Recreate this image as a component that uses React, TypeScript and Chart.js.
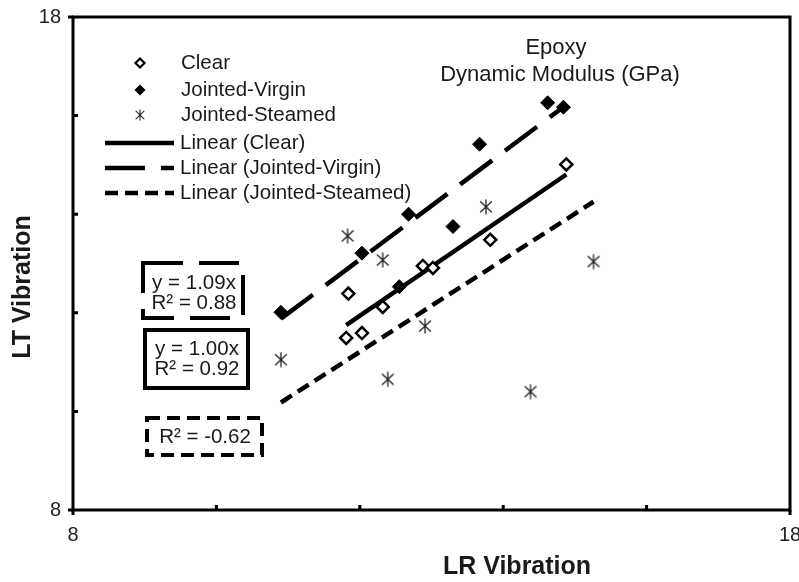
import React, { useEffect, useRef } from 'react';
import { Chart, registerables } from 'chart.js';

Chart.register(...registerables);

// ---- data ----
const clearX = [11.81, 12.03, 11.84, 12.32, 12.88, 13.02, 13.82, 14.88];
const clearY = [11.49, 11.59, 12.39, 12.12, 12.95, 12.91, 13.48, 15.01];
const virginX = [10.9, 12.03, 12.55, 12.68, 13.3, 13.67, 14.62, 14.84];
const virginY = [12.01, 13.21, 12.53, 14.0, 13.75, 15.42, 16.26, 16.17];
const steamedX = [10.9, 11.83, 12.32, 12.91, 12.39, 13.76, 14.38, 15.26];
const steamedY = [11.05, 13.56, 13.07, 11.73, 10.65, 14.15, 10.4, 13.04];

const seriesNames = ['Clear', 'Jointed-Virgin', 'Jointed-Steamed'];
const trendNames = ['Linear (Clear)', 'Linear (Jointed-Virgin)', 'Linear (Jointed-Steamed)'];
const trendSlopes = [0.995, 1.09, 0.934];
const equationClear = ['y = 1.00x', 'R² = 0.92'];
const equationVirgin = ['y = 1.09x', 'R² = 0.88'];
const equationSteamed = ['R² = -0.62'];
const titleLines = ['Epoxy', 'Dynamic Modulus (GPa)'];
const xTitle = 'LR Vibration';
const yTitle = 'LT Vibration';
const axisMin = 8;
const axisMax = 18;
const tickStep = 2;
const labeledTicks = [8, 18];

const FONT = '"Liberation Sans", Arial, sans-serif';
const TEXT = '#1a1a1a';
const DASH_VIRGIN = [40, 16];
const DASH_STEAMED = [13, 7];

function pts(xs: number[], ys: number[]) {
  return xs.map((x, i) => ({ x, y: ys[i] }));
}

function trend(xs: number[], slope: number) {
  const lo = Math.min(...xs);
  const hi = Math.max(...xs);
  return [
    { x: lo, y: slope * lo },
    { x: hi, y: slope * hi },
  ];
}

function makeAsterisk(size: number, lw: number) {
  const c = document.createElement('canvas');
  c.width = size;
  c.height = size;
  const g = c.getContext('2d')!;
  g.strokeStyle = '#222';
  g.lineWidth = lw;
  const m = size / 2;
  const r = size / 2 - 0.5;
  const dx = r * 0.78;
  const dy = r * 0.74;
  g.beginPath();
  g.moveTo(m, m - r);
  g.lineTo(m, m + r);
  g.moveTo(m - dx, m - dy);
  g.lineTo(m + dx, m + dy);
  g.moveTo(m + dx, m - dy);
  g.lineTo(m - dx, m + dy);
  g.stroke();
  return c;
}

function diamond(ctx: CanvasRenderingContext2D, x: number, y: number, r: number) {
  ctx.beginPath();
  ctx.moveTo(x, y - r);
  ctx.lineTo(x + r, y);
  ctx.lineTo(x, y + r);
  ctx.lineTo(x - r, y);
  ctx.closePath();
}

const decorPlugin = {
  id: 'decor',
  afterDraw(chart: any) {
    const ctx: CanvasRenderingContext2D = chart.ctx;
    const { left, right, top, bottom } = chart.chartArea;
    const xs = chart.scales.x;
    const ys = chart.scales.y;
    ctx.save();

    // frame
    ctx.setLineDash([]);
    ctx.strokeStyle = '#000';
    ctx.lineWidth = 3;
    ctx.strokeRect(left, top, right - left, bottom - top);

    // inner minor ticks and outer end stubs
    ctx.lineWidth = 3;
    ctx.beginPath();
    for (let v = axisMin + tickStep; v < axisMax; v += tickStep) {
      const px = xs.getPixelForValue(v);
      ctx.moveTo(px, bottom);
      ctx.lineTo(px, bottom - 5);
      const py = ys.getPixelForValue(v);
      ctx.moveTo(left, py);
      ctx.lineTo(left + 5, py);
    }
    [axisMin, axisMax].forEach((v) => {
      const px = xs.getPixelForValue(v);
      ctx.moveTo(px, bottom);
      ctx.lineTo(px, bottom + 5);
      const py = ys.getPixelForValue(v);
      ctx.moveTo(left, py);
      ctx.lineTo(left - 5, py);
    });
    ctx.stroke();

    // title inside plot
    ctx.fillStyle = TEXT;
    ctx.textAlign = 'center';
    ctx.textBaseline = 'middle';
    ctx.font = `22px ${FONT}`;
    ctx.fillText(titleLines[0], 556, 48);
    ctx.fillText(titleLines[1], 560, 75);

    // axis titles
    ctx.font = `bold 25px ${FONT}`;
    ctx.fillText(xTitle, 517, 567);
    ctx.save();
    ctx.translate(23, 287);
    ctx.rotate(-Math.PI / 2);
    ctx.fillText(yTitle, 0, 0);
    ctx.restore();

    // legend
    const rows = [63, 90, 115, 143, 168, 193];
    const mx = 140;
    ctx.textAlign = 'left';
    ctx.font = `20.5px ${FONT}`;
    ctx.fillStyle = TEXT;
    // open diamond
    ctx.setLineDash([]);
    diamond(ctx, mx, rows[0], 4.5);
    ctx.fillStyle = '#fff';
    ctx.fill();
    ctx.lineWidth = 2.2;
    ctx.strokeStyle = '#000';
    ctx.stroke();
    // filled diamond
    diamond(ctx, mx, rows[1], 5.5);
    ctx.fillStyle = '#000';
    ctx.fill();
    // asterisk
    const ast = makeAsterisk(12, 1.1);
    ctx.drawImage(ast, mx - 6, rows[2] - 6);
    // lines
    ctx.lineWidth = 4.5;
    ctx.strokeStyle = '#000';
    const lineDashes = [[], DASH_VIRGIN, DASH_STEAMED];
    for (let i = 0; i < 3; i++) {
      ctx.setLineDash(lineDashes[i]);
      ctx.beginPath();
      ctx.moveTo(105, rows[3 + i]);
      ctx.lineTo(174, rows[3 + i]);
      ctx.stroke();
    }
    ctx.setLineDash([]);
    ctx.fillStyle = TEXT;
    for (let i = 0; i < 3; i++) ctx.fillText(seriesNames[i], 181, rows[i]);
    for (let i = 0; i < 3; i++) ctx.fillText(trendNames[i], 180, rows[3 + i]);

    // equation boxes
    const boxes = [
      { x0: 143, y0: 263, x1: 243, y1: 318, dash: DASH_VIRGIN, lines: equationVirgin, cx: 194, ly: [283, 303] },
      { x0: 145, y0: 330, x1: 248, y1: 388, dash: [] as number[], lines: equationClear, cx: 197, ly: [349, 369] },
      { x0: 147, y0: 418, x1: 262, y1: 455, dash: DASH_STEAMED, lines: equationSteamed, cx: 205, ly: [437] },
    ];
    boxes.forEach((b) => {
      ctx.fillStyle = '#fff';
      ctx.fillRect(b.x0, b.y0, b.x1 - b.x0, b.y1 - b.y0);
      ctx.setLineDash(b.dash);
      ctx.lineWidth = 4;
      ctx.strokeStyle = '#000';
      ctx.strokeRect(b.x0, b.y0, b.x1 - b.x0, b.y1 - b.y0);
      ctx.setLineDash([]);
      ctx.fillStyle = TEXT;
      ctx.textAlign = 'center';
      ctx.font = `20.5px ${FONT}`;
      b.lines.forEach((t, i) => ctx.fillText(t, b.cx, b.ly[i]));
    });

    ctx.restore();
  },
};

export default function App() {
  const ref = useRef<HTMLCanvasElement>(null);

  useEffect(() => {
    if (!ref.current) return;
    const asterisk = makeAsterisk(16, 1.3);
    const chart = new Chart(ref.current, {
      type: 'scatter',
      data: {
        datasets: [
          {
            label: trendNames[0],
            data: trend(clearX, trendSlopes[0]),
            showLine: true,
            pointRadius: 0,
            borderColor: '#000',
            borderWidth: 4.5,
            order: 2,
          } as any,
          {
            label: trendNames[1],
            data: trend(virginX, trendSlopes[1]),
            showLine: true,
            pointRadius: 0,
            borderColor: '#000',
            borderWidth: 4.5,
            borderDash: DASH_VIRGIN,
            order: 2,
          },
          {
            label: trendNames[2],
            data: trend(steamedX, trendSlopes[2]),
            showLine: true,
            pointRadius: 0,
            borderColor: '#000',
            borderWidth: 4.5,
            borderDash: DASH_STEAMED,
            order: 2,
          },
          {
            label: seriesNames[0],
            data: pts(clearX, clearY),
            pointStyle: 'rectRot',
            pointRadius: 6,
            pointBackgroundColor: '#fff',
            pointBorderColor: '#000',
            pointBorderWidth: 2.5,
            order: 1,
          },
          {
            label: seriesNames[1],
            data: pts(virginX, virginY),
            pointStyle: 'rectRot',
            pointRadius: 7,
            pointBackgroundColor: '#000',
            pointBorderColor: '#000',
            pointBorderWidth: 1,
            order: 1,
          },
          {
            label: seriesNames[2],
            data: pts(steamedX, steamedY),
            pointStyle: asterisk as any,
            pointRadius: 8,
            order: 1,
          },
        ],
      },
      options: {
        animation: false,
        responsive: false,
        layout: { padding: { top: 17, right: 4, left: 0, bottom: 0 } },
        plugins: {
          legend: { display: false },
          tooltip: { enabled: false },
        },
        scales: {
          x: {
            type: 'linear',
            min: axisMin,
            max: axisMax,
            grid: { display: false, drawTicks: false },
            border: { display: false },
            ticks: {
              stepSize: tickStep,
              padding: 13,
              color: '#222',
              font: { size: 20, family: FONT },
              maxRotation: 0,
              autoSkip: false,
              callback: (v: any) => (labeledTicks.includes(Number(v)) ? String(v) : ''),
            },
            afterFit: (s: any) => {
              s.height = 72;
              s.paddingLeft = 0;
              s.paddingRight = 0;
            },
          },
          y: {
            type: 'linear',
            min: axisMin,
            max: axisMax,
            grid: { display: false, drawTicks: false },
            border: { display: false },
            ticks: {
              stepSize: tickStep,
              padding: 12,
              color: '#222',
              font: { size: 20, family: FONT },
              autoSkip: false,
              callback: (v: any) => (labeledTicks.includes(Number(v)) ? String(v) : ''),
            },
            afterFit: (s: any) => {
              s.width = 73;
              s.paddingTop = 0;
              s.paddingBottom = 0;
            },
          },
        },
      },
      plugins: [decorPlugin],
    });
    return () => chart.destroy();
  }, []);

  return (
    <div style={{ position: 'fixed', left: 0, top: 0, width: 799, height: 582, background: '#fff' }}>
      <canvas ref={ref} width={799} height={582} style={{ display: 'block' }} />
    </div>
  );
}
